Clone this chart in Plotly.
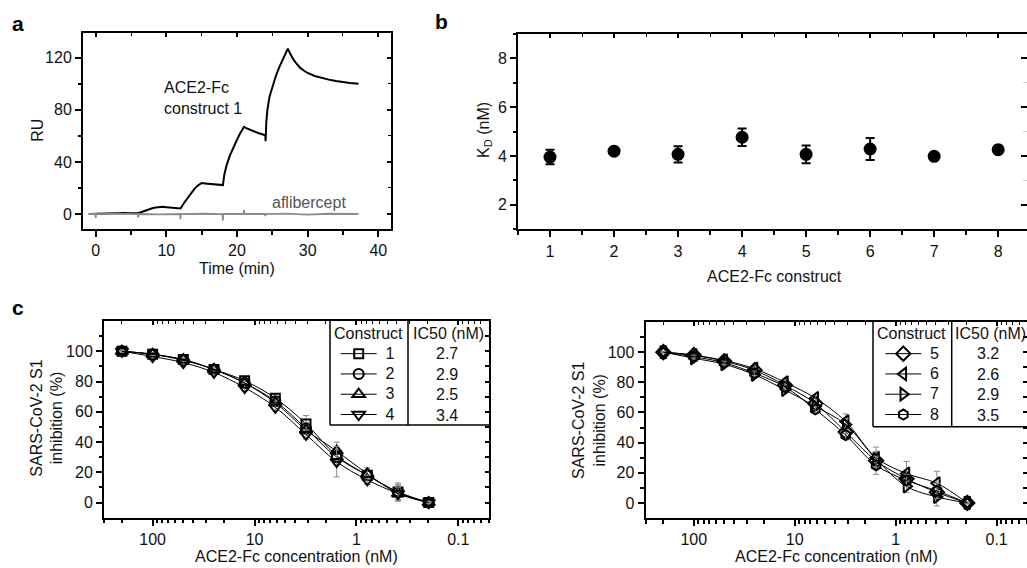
import math
import plotly.graph_objects as go

W, H = 1027, 568
FONT = "Liberation Sans, Arial, sans-serif"

# ---------------- Panel a: SPR sensorgram ----------------
time_ace = [-1, 0, 1, 2, 3, 4, 5, 6, 6.5, 7, 7.5, 8, 8.5, 9, 9.5, 10, 11, 12,
            12.5, 13, 13.5, 14, 14.5, 15, 15.5, 16, 17, 18,
            18.2, 18.5, 19, 19.5, 20, 20.5, 21, 21.3, 22, 23, 24,
            24.05, 24.15, 24.3, 24.6, 25, 25.5, 26, 26.5, 27, 27.2,
            27.5, 28, 28.5, 29, 29.5, 30, 31, 32, 33, 34, 35, 36, 37.2]
ru_ace = [0, 0.2, 0.3, 0.6, 1.0, 0.8, 0.6, 0.6, 1.6, 2.7, 3.6, 4.4, 5.0, 5.4, 5.5, 5.2, 4.7, 4.2,
          8.5, 12.5, 16.2, 19.5, 22.0, 23.8, 23.5, 23.2, 22.7, 22.2,
          30, 37, 45, 51.5, 57, 62.5, 67, 66, 64.3, 62.2, 60.5,
          56, 71, 80, 90, 98, 106, 113, 119, 124, 127,
          123.5, 118.5, 115, 112, 110, 108.3, 106, 104.4, 103.2, 102.2, 101.3, 100.6, 100]
time_afl = [-1, -0.05, 0, 0.05, 3, 5.95, 6, 6.05, 9, 11.95, 12, 12.05, 15, 17.95, 18, 18.05,
            20.95, 21, 21.05, 23.95, 24, 24.05, 27, 30, 33, 37.2]
ru_afl = [0, 0, -3, 0, 0.3, 0, -2.5, 0, -0.3, 0, -4, 0, 0.2, 0, -5, 0,
          0, 3, 0, 0, -1.5, 0, 0.3, -0.4, 0.2, 0]

# ---------------- Panel b: KD per construct ----------------
constructs = [1, 2, 3, 4, 5, 6, 7, 8]
kd = [3.96, 4.20, 4.07, 4.77, 4.07, 4.29, 3.99, 4.26]
kd_err = [0.30, 0.10, 0.33, 0.36, 0.36, 0.45, 0.10, 0.12]

# ---------------- Panel c: inhibition curves ----------------
conc = [200, 100, 50, 25, 12.5, 6.25, 3.125, 1.5625, 0.78125, 0.390625, 0.1953125]
inh1 = [100, 98, 94.5, 88, 80.5, 69, 52, 31, 18, 7, 0]
inh2 = [100, 98, 94, 88, 79, 67, 49, 30, 18, 7, 0]
inh3 = [100, 98, 94.5, 88, 79, 66, 48, 34, 19, 6, 0]
inh4 = [100, 96.5, 92.5, 86, 76, 63, 45, 27, 15, 6, 0]
inh5 = [100, 98, 94, 88, 78, 66, 47, 28, 16, 7, 0]
inh6 = [100, 98, 94.5, 89, 80, 69.5, 54, 30, 19.5, 13, 0]
inh7 = [100, 96, 92, 85, 75, 64, 52, 29, 11, 4, 0]
inh8 = [100, 97, 93, 86, 77, 62, 45, 25, 15, 8, 0]
err1 = [0.5, 1, 1, 1.5, 2, 3, 5.5, 4, 3, 6, 0.5]
err2 = [0.5, 1, 1, 1.5, 2, 2, 4, 5, 3, 5, 0.5]
err3 = [0.5, 1, 1, 1.5, 2, 2, 3, 6, 4, 4, 0.5]
err4 = [0.5, 1, 1, 1.5, 2, 2, 3, 10, 3, 5, 0.5]
err5 = [0.5, 1, 1, 1.5, 2, 2, 3, 6, 3, 4, 0.5]
err6 = [0.5, 1, 1, 1.5, 2, 2, 5, 7, 8, 8, 0.5]
err7 = [0.5, 1, 1, 1.5, 2, 2, 4, 5, 4, 6, 0.5]
err8 = [0.5, 1, 1, 1.5, 2, 2, 3, 6, 4, 5, 0.5]
ic50_left = ["2.7", "2.9", "2.5", "3.4"]
ic50_right = ["3.2", "2.6", "2.9", "3.5"]
names_left = ["1", "2", "3", "4"]
names_right = ["5", "6", "7", "8"]

log_ticks = [100, 10, 1, 0.1]
log_ticktext = ["100", "10", "1", "0.1"]


def px(x):
    return x / W


def py(y):
    return 1 - y / H


minor_log = [m * 10 ** e for e in range(-2, 3) for m in range(2, 10)]

TICKFONT = dict(family=FONT, size=16, color="#111")


def main_axis(**kw):
    d = dict(showline=True, linecolor="black", linewidth=2, ticks="outside", ticklen=6,
             tickwidth=1.5, tickcolor="black", showgrid=False, zeroline=False,
             tickfont=TICKFONT, mirror=False)
    d.update(kw)
    return d


def over_axis(**kw):
    d = dict(showline=True, linecolor="black", linewidth=2, ticks="inside", ticklen=4,
             tickwidth=1.5, tickcolor="black", showgrid=False, zeroline=False,
             showticklabels=False)
    d.update(kw)
    return d


fig = go.Figure()

# Panel a traces
fig.add_trace(go.Scatter(x=time_ace, y=ru_ace, mode="lines", line=dict(color="black", width=2),
                         xaxis="x", yaxis="y", showlegend=False))
fig.add_trace(go.Scatter(x=time_afl, y=ru_afl, mode="lines", line=dict(color="#8c8c8c", width=1.8),
                         xaxis="x", yaxis="y", showlegend=False))

# Panel b
fig.add_trace(go.Scatter(x=constructs, y=kd, mode="markers",
                         marker=dict(color="black", size=13),
                         error_y=dict(type="data", array=kd_err, color="black", thickness=2, width=4.5),
                         xaxis="x2", yaxis="y2", showlegend=False))

# Panel c
left_series = [(inh1, err1, "square-open", 9), (inh2, err2, "circle-open", 10),
               (inh3, err3, "triangle-up-open", 11), (inh4, err4, "triangle-down-open", 11)]
right_series = [(inh5, err5, "diamond-open", 11), (inh6, err6, "triangle-left-open", 11),
                (inh7, err7, "triangle-right-open", 11), (inh8, err8, "hexagon-open", 10)]

for (vals, errs, sym, sz), nm in zip(left_series, names_left):
    fig.add_trace(go.Scatter(x=conc, y=vals, mode="lines+markers",
                             name='&nbsp;<span style="font-size:16px">' + nm + '</span>',
                             line=dict(color="black", width=1, shape="spline"),
                             marker=dict(symbol=sym, size=sz, color="black", line=dict(width=2, color="black")),
                             error_y=dict(type="data", array=errs, color="#8a8a8a", thickness=1, width=3),
                             xaxis="x3", yaxis="y3", legend="legend"))
for (vals, errs, sym, sz), nm in zip(right_series, names_right):
    fig.add_trace(go.Scatter(x=conc, y=vals, mode="lines+markers",
                             name='&nbsp;<span style="font-size:16px">' + nm + '</span>',
                             line=dict(color="black", width=1, shape="spline"),
                             marker=dict(symbol=sym, size=sz, color="black", line=dict(width=2, color="black")),
                             error_y=dict(type="data", array=errs, color="#8a8a8a", thickness=1, width=3),
                             xaxis="x4", yaxis="y4", legend="legend2"))

# empty traces so that the frame axes (top / right) are drawn for every panel
for xa, ya in [("x5", "y"), ("x", "y5"), ("x6", "y2"), ("x2", "y6"),
               ("x7", "y3"), ("x3", "y7"), ("x8", "y4"), ("x4", "y8")]:
    fig.add_trace(go.Scatter(x=[], y=[], mode="lines", xaxis=xa, yaxis=ya,
                             showlegend=False, hoverinfo="skip"))

ra_x = [-1.8, 41.8]
ra_y = [-11.5, 139]
rb_x = [0.5, 8.45]
rb_y = [1, 9]
rc_x = [math.log10(300), math.log10(0.05)]
rc_y = [-10, 120]
c_major_y = [0, 20, 40, 60, 80, 100]
c_minor_y = [10, 30, 50, 70, 90, 110]
c_right_y = [0, 10, 20, 30, 40, 50, 60, 70, 80, 90, 100, 110]

minor_out = dict(ticks="outside", ticklen=3.5, tickwidth=1.5, tickcolor="black", showgrid=False)
minor_in = dict(ticks="inside", ticklen=3, tickwidth=1.2, tickcolor="black", showgrid=False)

layout = dict(
    width=W, height=H, margin=dict(l=0, r=0, t=0, b=0),
    paper_bgcolor="white", plot_bgcolor="white",
    font=dict(family=FONT, size=16, color="#111"),
    # panel a
    xaxis=main_axis(domain=[px(83), px(391)], anchor="y", range=ra_x, tick0=0, dtick=10,
                    minor=dict(dtick=5, **minor_out)),
    yaxis=main_axis(domain=[py(229), py(33)], anchor="x", range=ra_y, tick0=0, dtick=40,
                    minor=dict(dtick=20, **minor_out)),
    xaxis5=over_axis(overlaying="x", side="top", anchor="y", range=ra_x, tick0=0, dtick=10,
                     minor=dict(dtick=5, **minor_in)),
    yaxis5=over_axis(overlaying="y", side="right", anchor="x", range=ra_y, tick0=0, dtick=40,
                     minor=dict(dtick=20, **minor_in)),
    # panel b
    xaxis2=main_axis(domain=[px(518), 1.0], anchor="y2", range=rb_x, tick0=1, dtick=1,
                     minor=dict(dtick=0.5, **minor_out)),
    yaxis2=main_axis(domain=[py(229.3), py(34)], anchor="x2", range=rb_y, tick0=2, dtick=2,
                     minor=dict(dtick=1, **minor_out)),
    xaxis6=over_axis(overlaying="x2", side="top", anchor="y2", range=rb_x, tick0=1, dtick=1,
                     minor=dict(dtick=0.5, **minor_in)),
    yaxis6=over_axis(overlaying="y2", side="right", anchor="x2", range=rb_y, tick0=2, dtick=2,
                     showline=False, ticklen=6,
                     minor=dict(dtick=1, ticks="inside", ticklen=4, tickwidth=1, tickcolor="#cfcfcf")),
    # panel c left
    xaxis3=main_axis(type="log", domain=[px(104), px(489)], anchor="y3", range=rc_x,
                     tickvals=log_ticks, ticktext=log_ticktext,
                     minor=dict(tickvals=minor_log, **minor_out)),
    yaxis3=main_axis(domain=[py(517.7), py(321)], anchor="x3", range=rc_y, tickvals=c_major_y,
                     minor=dict(tickvals=c_minor_y, **minor_out)),
    xaxis7=over_axis(type="log", overlaying="x3", side="top", anchor="y3", range=rc_x,
                     tickvals=log_ticks, minor=dict(tickvals=minor_log, **minor_in)),
    yaxis7=over_axis(overlaying="y3", side="right", anchor="x3", range=rc_y, tickvals=c_right_y),
    # panel c right
    xaxis4=main_axis(type="log", domain=[px(645.6), 1.0], anchor="y4", range=rc_x,
                     tickvals=log_ticks, ticktext=log_ticktext,
                     minor=dict(tickvals=minor_log, **minor_out)),
    yaxis4=main_axis(domain=[py(518), py(322)], anchor="x4", range=rc_y, tickvals=c_major_y,
                     minor=dict(tickvals=c_minor_y, **minor_out)),
    xaxis8=over_axis(type="log", overlaying="x4", side="top", anchor="y4", range=rc_x,
                     tickvals=log_ticks, minor=dict(tickvals=minor_log, **minor_in)),
    yaxis8=over_axis(overlaying="y4", side="right", anchor="x4", range=rc_y, tickvals=c_right_y,
                     showline=False),
    legend=dict(x=px(335.7), y=py(338.5), xanchor="left", yanchor="top", bgcolor="rgba(0,0,0,0)",
                font=dict(family=FONT, size=13.3, color="#111"), itemwidth=36, borderwidth=0),
    legend2=dict(x=px(880.3), y=py(338.5), xanchor="left", yanchor="top", bgcolor="rgba(0,0,0,0)",
                 font=dict(family=FONT, size=13.3, color="#111"), itemwidth=36, borderwidth=0),
)
fig.update_layout(**layout)

annotations = []


def ann(text, x, y, size=16, color="#111", angle=0, xanchor="center", align="center", bold=False):
    if bold:
        text = "<b>" + text + "</b>"
    annotations.append(dict(text=text, x=px(x), y=py(y), xref="paper", yref="paper",
                            showarrow=False, xanchor=xanchor, yanchor="middle", align=align,
                            textangle=angle, font=dict(family=FONT, size=size, color=color)))


# panel letters
ann("a", 18, 23, size=21, bold=True, color="black")
ann("b", 441, 22, size=21, bold=True, color="black")
ann("c", 18, 307, size=21, bold=True, color="black")

# panel a texts
ann("RU", 36.7, 130, angle=-90)
ann("Time (min)", 237, 268)
ann("ACE2-Fc<br>construct 1", 162, 98, xanchor="left", align="left")
ann("aflibercept", 309, 202, color="#555")

# panel b texts
ann("K<sub>D</sub> (nM)", 484, 130, angle=-90)
ann("ACE2-Fc construct", 774, 276)

# panel c texts
ann("SARS-CoV-2 S1<br>inhibition (%)", 46.7, 418, angle=-90)
ann("ACE2-Fc concentration (nM)", 296, 556.7)
ann("SARS-CoV-2 S1<br>inhibition (%)", 589, 421, angle=-90)
ann("ACE2-Fc concentration (nM)", 836, 556.7)

rows_y = [353.5, 374, 394.5, 415]
ann("Construct", 368.3, 333.3)
ann("IC50 (nM)", 448.7, 333.3)
ann("Construct", 911.5, 333.3)
ann("IC50 (nM)", 990, 333.3)
for v, yy in zip(ic50_left, rows_y):
    ann(v, 446.7, yy)
for v, yy in zip(ic50_right, rows_y):
    ann(v, 988, yy)

shapes = []


def seg(x0, y0, x1, y1):
    shapes.append(dict(type="line", xref="paper", yref="paper", x0=px(x0), y0=py(y0),
                       x1=px(x1), y1=py(y1), line=dict(color="black", width=1.5)))


# table frames in panel c
seg(330, 321, 330, 425)
seg(330, 425, 489, 425)
seg(408, 321, 408, 425)
seg(873, 322, 873, 426.7)
seg(873, 426.7, 1027, 426.7)
seg(951.7, 322, 951.7, 426.7)

fig.update_layout(annotations=annotations, shapes=shapes)

fig.write_html("out.html",
               config={"displayModeBar": False},
               post_script="document.body.style.margin='0';document.body.style.padding='0';"
                           "document.body.style.overflow='hidden';")
